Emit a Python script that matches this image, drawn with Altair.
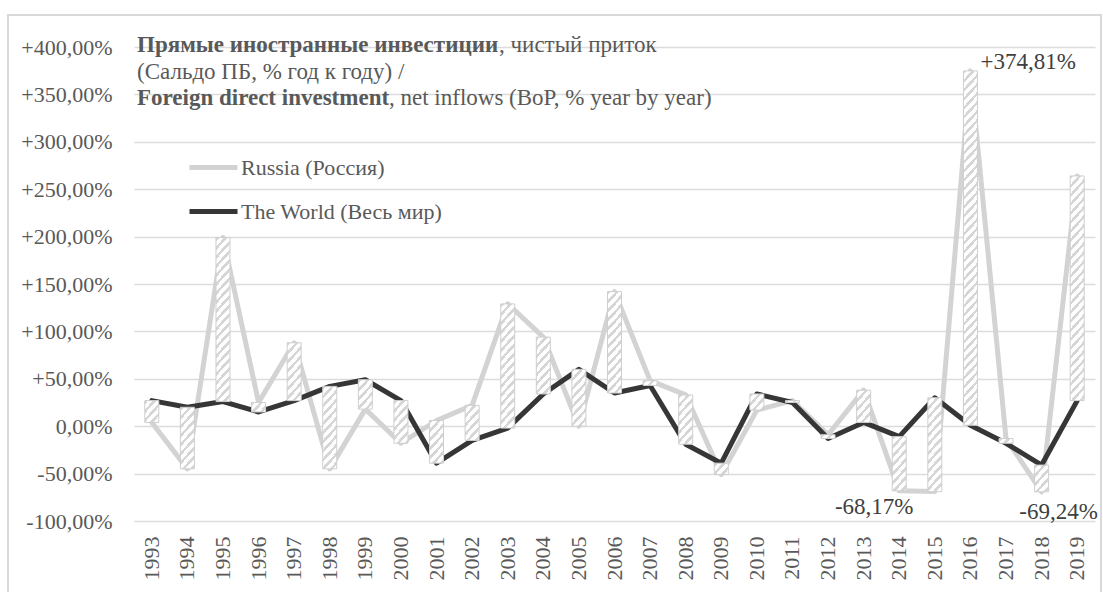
import altair as alt
import pandas as pd

# ---------------- data ----------------
years = list(range(1993, 2020))
russia = [4, -45, 199, 25, 88, -45, 18, -18, 6, 22, 129, 94, 0, 142, 48, 33,
          -51, 17, 27, -9, 38, -68.17, -69, 374.81, -13, -69.24, 264]
world = [27, 20, 26, 15, 27, 42, 49, 27, -39, -15, -2, 34, 60, 35, 43, -19,
         -39, 34, 25, -13, 4, -11, 30, 1, -18, -41, 27]
series_names = ["Russia (Россия)", "The World (Весь мир)"]
series_colors = ["#d3d3d3", "#363636"]
y_ticks = [-100, -50, 0, 50, 100, 150, 200, 250, 300, 350, 400]
labelled_years = [2016, 2014, 2018]

title_bold_ru = "Прямые иностранные инвестиции"
title_rest_ru = ", чистый приток"
title_line2 = "(Сальдо ПБ, % год к году) /"
title_bold_en = "Foreign direct investment"
title_rest_en = ", net inflows (BoP, % year by year)"

# ---------------- style ----------------
FONT = "Liberation Serif"
TXT = "#595959"
W, H = 961, 474
PX = H / 500.0          # pixels per percentage point
BAR_W = 14
HATCH = "#d6d6d6"
K = 1.1                  # slope of hatch stripes
PV = 9.0                 # vertical period of hatch stripes (px)
DUTY = 0.42

df = pd.DataFrame({"year": years, "russia": russia, "world": world})
df["low"] = df[["russia", "world"]].min(axis=1)
df["high"] = df[["russia", "world"]].max(axis=1)

long = pd.concat([
    pd.DataFrame({"year": years, "value": russia, "series": series_names[0]}),
    pd.DataFrame({"year": years, "value": world, "series": series_names[1]}),
])

xscale = alt.Scale(domain=years, paddingInner=0, paddingOuter=0)
yscale = alt.Scale(domain=[-100, 400], nice=False, zero=False)

x_axis = alt.Axis(title=None, labelAngle=270, labelFont=FONT, labelFontSize=22,
                  labelColor=TXT, labelPadding=15, ticks=False, tickSize=0,
                  domain=False, grid=False, labelOverlap=False)
y_axis = alt.Axis(title=None, values=y_ticks, labelFont=FONT, labelFontSize=22,
                  labelColor=TXT, labelPadding=22, ticks=False, tickSize=0,
                  domain=False, grid=True, gridColor="#dcdcdc", gridWidth=1.4,
                  labelExpr="(datum.value < 0 ? '-' : datum.value > 0 ? '+' : '') + "
                            "replace(format(abs(datum.value), '.2f'), '.', ',') + '%'")

lines = alt.Chart(long).mark_line(strokeWidth=5, strokeJoin="round", strokeCap="round").encode(
    x=alt.X("year:O", scale=xscale, axis=x_axis),
    y=alt.Y("value:Q", scale=yscale, axis=y_axis),
    color=alt.Color("series:N",
                    scale=alt.Scale(domain=series_names, range=series_colors),
                    legend=alt.Legend(orient="none", legendX=53, legendY=94, title=None,
                                      symbolType="stroke", symbolSize=2304,
                                      symbolStrokeWidth=5, labelFont=FONT,
                                      labelFontSize=22, labelColor=TXT, labelLimit=0,
                                      rowPadding=6, labelOffset=1, padding=0)),
    order=alt.Order("year:O"),
)


def hatch(diff):
    h = max(abs(diff) * PX, 0.5)
    a = K * BAR_W
    b = h
    n = (a + b) / PV
    s = (a + b) / (a * a + b * b)
    stops = []
    j = 0
    while j < n:
        t0 = j / n
        t1 = min((j + DUTY) / n, 1.0)
        t2 = min((j + 1) / n, 1.0)
        stops += [alt.GradientStop(offset=t0, color=HATCH),
                  alt.GradientStop(offset=t1, color=HATCH),
                  alt.GradientStop(offset=t1, color="#ffffff"),
                  alt.GradientStop(offset=t2, color="#ffffff")]
        j += 1
    return alt.LinearGradient(gradient="linear", x1=0, y1=0, x2=a * s, y2=b * s, stops=stops)


bars = []
for yr, r, w in zip(years, russia, world):
    bars.append(
        alt.Chart(df).transform_filter(alt.datum.year == yr)
        .mark_bar(size=BAR_W, fill=hatch(r - w), stroke="#cfcfcf", strokeWidth=1)
        .encode(x=alt.X("year:O", scale=xscale), y=alt.Y("low:Q", scale=yscale), y2="high:Q")
    )

lab = df[df["year"].isin(labelled_years)].copy()
lab["txt"] = lab["russia"].map(lambda v: ("+" if v > 0 else "-") + f"{abs(v):.2f}".replace(".", ",") + "%")


def label_layer(yr, align, dx, dy):
    return alt.Chart(lab).transform_filter(alt.datum.year == yr).mark_text(
        font=FONT, fontSize=23, color="#404040", align=align, baseline="middle", dx=dx, dy=dy
    ).encode(x=alt.X("year:O", scale=xscale), y=alt.Y("russia:Q", scale=yscale), text="txt:N")


labels = [label_layer(2016, "left", 10, -9),
          label_layer(2014, "center", -25, 16),
          label_layer(2018, "center", 17, 20)]


def text_piece(t, x, y, bold=False):
    return alt.Chart(pd.DataFrame({"t": [t]})).mark_text(
        font=FONT, fontSize=23, color=TXT, align="left", baseline="middle",
        fontWeight="bold" if bold else "normal"
    ).encode(x=alt.value(x), y=alt.value(y), text="t:N")


titles = [
    text_piece(title_bold_ru, 3, -2, True),
    text_piece(title_rest_ru, 365, -2),
    text_piece(title_line2, 3, 25),
    text_piece(title_bold_en, 3, 51, True),
    text_piece(title_rest_en, 255, 51),
]

frame = alt.Chart(pd.DataFrame({"a": [0]})).mark_rect(
    fillOpacity=0, stroke="#d9d9d9", strokeWidth=2
).encode(x=alt.value(-126), x2=alt.value(967), y=alt.value(-32), y2=alt.value(580))

chart = alt.layer(lines, *bars, *labels, *titles, frame).properties(
    width=W, height=H,
    padding={"left": 134, "top": 47, "right": 8, "bottom": 71},
    autosize=alt.AutoSizeParams(type="none"),
    background="white",
).configure_view(stroke=None)

chart.save("out.html", embed_options={"renderer": "svg", "actions": False})
